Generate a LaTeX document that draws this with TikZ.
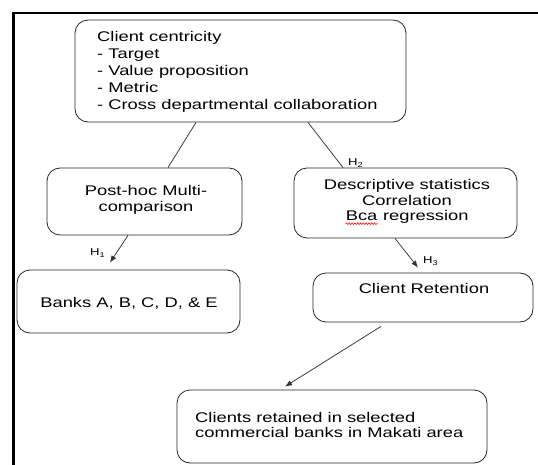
\documentclass[tikz,border=0pt]{standalone}
\usepackage{fontspec}
\setmainfont{Liberation Sans}[FakeStretch=1.31]
\usetikzlibrary{arrows.meta,decorations.pathmorphing}
\newcommand\redwaveword[1]{\tikz[baseline=(bw.base)]{\node[inner sep=0pt] (bw) {#1};
  \draw[red, line width=0.55pt, decorate, decoration={snake, amplitude=0.9pt, segment length=2.8pt}]
    ([yshift=-2.8pt]bw.base west) -- ([yshift=-2.8pt]bw.base east);}}
\tikzset{
  box/.style={draw=black!85, rounded corners=13pt, line width=0.8pt, inner sep=0pt},
  txt/.style={inner sep=0pt, text=black, font=\fontsize{14}{16.5}\selectfont},
  conn/.style={draw=black!80, line width=0.75pt},
  arr/.style={conn, -{Latex[length=7pt,width=5.5pt]}},
  hlab/.style={inner sep=0pt, text=black, font=\fontsize{10}{12}\selectfont},
}
\begin{document}
\begin{tikzpicture}[x=1pt,y=-1pt]
\fill[white] (0,0) rectangle (538,465);
\useasboundingbox (0,0) rectangle (538,465);
% frame
\draw[line width=2.4pt, line cap=rect] (13.5,466) -- (13.5,13) -- (539,13);
% boxes
\node[box, minimum width=331pt, minimum height=102pt] (top) at (240.5,71) {};
\node[box, minimum width=195pt, minimum height=67pt] (post) at (144.5,201.5) {};
\node[box, minimum width=223pt, minimum height=70pt] (desc) at (405.5,203) {};
\node[box, minimum width=223pt, minimum height=63pt] (banks) at (128.5,301.5) {};
\node[box, minimum width=220pt, minimum height=49pt] (cr) at (423,297.5) {};
\node[box, minimum width=310pt, minimum height=73pt] (bot) at (332,426.5) {};
% texts
\node[txt, anchor=west, align=left, font=\fontsize{14}{17}\selectfont] (topT) at (97,72)
  {Client centricity\\- Target\\- Value proposition\\- Metric\\- Cross departmental collaboration};
\node[txt, align=center] (postT) at (146,200) {Post-hoc Multi-\\comparison};
\node[txt, align=center, font=\fontsize{14}{15.8}\selectfont] (descT) at (407,202)
  {Descriptive statistics\\Correlation\\\redwaveword{Bca} regression};
\node[txt, anchor=base] (banksT) at (129,307) {Banks A, B, C, D, \& E};
\node[txt, anchor=base] (crT) at (424,293) {Client Retention};
\node[txt, anchor=west, align=left, font=\fontsize{14}{15}\selectfont] (botT) at (195,425)
  {Clients retained in selected\\commercial banks in Makati area};
% connectors
\draw[conn] ([xshift=-44.5pt]top.south) -- ([xshift=23.5pt]post.north);
\draw[conn] ([xshift=67.5pt]top.south) -- ([xshift=-62.5pt]desc.north);
\draw[arr] ([xshift=-16.5pt]post.south) -- ([xshift=-18.5pt,yshift=7pt]banks.north);
\draw[arr] ([xshift=-10.5pt]desc.south) -- ([xshift=-5pt,yshift=5pt]cr.north);
\draw[arr] ([xshift=-42pt,yshift=-4pt]cr.south) -- ([xshift=-47pt,yshift=3pt]bot.north);
% hypothesis labels
\node[hlab, anchor=west] (h2) at (348,163) {H\textsubscript{2}};
\node[hlab, anchor=west] (h1) at (90,253) {H\textsubscript{1}};
\node[hlab, anchor=west] (h3) at (423,261) {H\textsubscript{3}};
\end{tikzpicture}
\end{document}
